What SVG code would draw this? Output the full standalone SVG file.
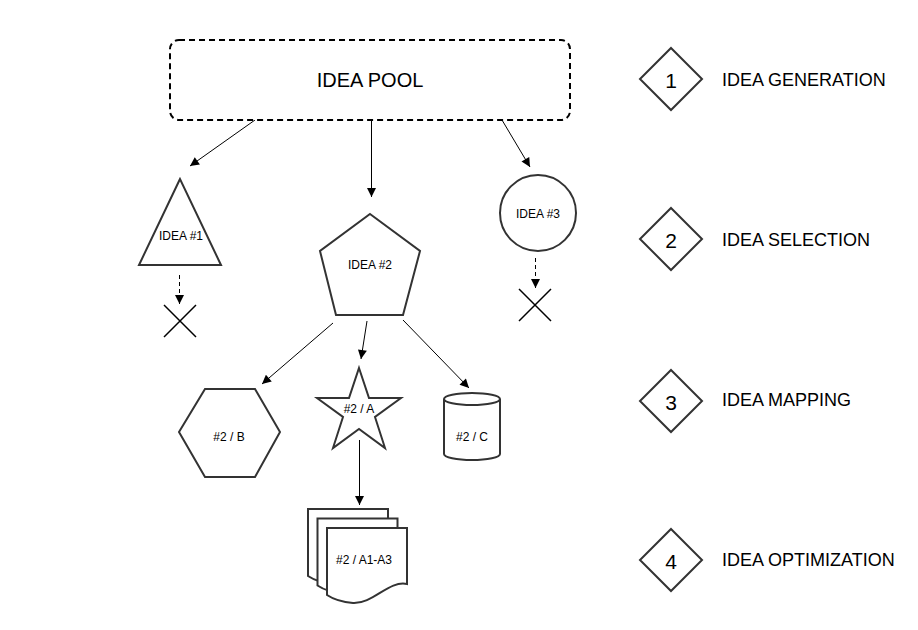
<svg xmlns="http://www.w3.org/2000/svg" width="918" height="630" viewBox="0 0 918 630">
<style>
.shape{fill:#fff;stroke:#333;stroke-width:2}
.conn{fill:none;stroke:#000;stroke-width:1}
.dash{stroke-dasharray:4 3}
.x{stroke:#000;stroke-width:1.5;fill:none}
text{font-family:"Liberation Sans",Arial,sans-serif;fill:#000;text-anchor:middle;dominant-baseline:central}
.s{font-size:12px}
.leg{font-size:18px;text-anchor:start}
.num{font-size:21px}
</style>
<defs>
<marker id="ah" viewBox="0 0 10 10" refX="10" refY="5" markerWidth="10" markerHeight="9" markerUnits="userSpaceOnUse" orient="auto">
<path d="M0,0 L10,5 L0,10 Z" fill="#000"/>
</marker>
<path id="doc" d="M0,0 H80 V56 C62,52 46,76 26,75 C14,74 6,71 0,67 Z"/>
</defs>
<rect width="918" height="630" fill="#fff"/>
<g id="connectors">
<line class="conn" x1="255" y1="120" x2="190" y2="166" marker-end="url(#ah)"/>
<line class="conn" x1="371.5" y1="120" x2="371.5" y2="197" marker-end="url(#ah)"/>
<line class="conn" x1="502" y1="120" x2="530" y2="167" marker-end="url(#ah)"/>
<line class="conn dash" x1="179.5" y1="275" x2="179.5" y2="304" marker-end="url(#ah)"/>
<line class="conn dash" x1="535.5" y1="258" x2="535.5" y2="288" marker-end="url(#ah)"/>
<line class="conn" x1="333" y1="323" x2="262" y2="384" marker-end="url(#ah)"/>
<line class="conn" x1="367" y1="321" x2="361" y2="359" marker-end="url(#ah)"/>
<line class="conn" x1="403" y1="320" x2="469" y2="388" marker-end="url(#ah)"/>
<line class="conn" x1="359.5" y1="440" x2="359.5" y2="505" marker-end="url(#ah)"/>
</g>
<g id="pool">
<rect x="170" y="40" width="400" height="80" rx="9" fill="#fff" stroke="#000" stroke-width="2" stroke-dasharray="6 4"/>
<text x="370" y="80" style="font-size:20px">IDEA POOL</text>
</g>
<g id="idea1">
<polygon class="shape" points="180,179 139,265 221,265"/>
<text class="s" x="181" y="236">IDEA #1</text>
</g>
<g id="reject1">
<path class="x" d="M164,305 L196,337 M196,305 L164,337"/>
</g>
<g id="idea2">
<polygon class="shape" points="370,214 420,251 403,315 336,315 320,251"/>
<text class="s" x="370" y="265">IDEA #2</text>
</g>
<g id="idea3">
<circle class="shape" cx="538" cy="213" r="38"/>
<text class="s" x="538" y="214">IDEA #3</text>
</g>
<g id="reject3">
<path class="x" d="M519,289 L551,321 M551,289 L519,321"/>
</g>
<g id="nodeB">
<polygon class="shape" points="179,432 205,389 255,389 280,432 255,477 205,477"/>
<text class="s" x="229" y="437">#2 / B</text>
</g>
<g id="nodeA">
<polygon class="shape" points="359,368 369,398 401,398 375,417 385,448 359,429 333,448 343,417 317,398 349,398"/>
<text class="s" x="359" y="409">#2 / A</text>
</g>
<g id="nodeC">
<path class="shape" d="M444,399 V454 A28,6 0 0 0 500,454 V399 A28,6 0 0 0 444,399 Z"/>
<path class="shape" d="M444,399 A28,6 0 0 0 500,399" fill="none"/>
<text class="s" x="472" y="437">#2 / C</text>
</g>
<g id="docs">
<use href="#doc" class="shape" x="308" y="509"/>
<use href="#doc" class="shape" x="317.5" y="518.5"/>
<use href="#doc" class="shape" x="327" y="528"/>
<text class="s" x="364" y="560">#2 / A1-A3</text>
</g>
<g id="legend1">
<polygon class="shape" points="671,48 702,79 671,110 640,79"/>
<text class="num" x="671" y="80">1</text>
<text class="leg" x="722" y="80">IDEA GENERATION</text>
</g>
<g id="legend2">
<polygon class="shape" points="671,208 702,239 671,270 640,239"/>
<text class="num" x="671" y="240">2</text>
<text class="leg" x="722" y="240">IDEA SELECTION</text>
</g>
<g id="legend3">
<polygon class="shape" points="671,370 702,401 671,432 640,401"/>
<text class="num" x="671" y="402">3</text>
<text class="leg" x="722" y="400">IDEA MAPPING</text>
</g>
<g id="legend4">
<polygon class="shape" points="671,529 702,560 671,591 640,560"/>
<text class="num" x="671" y="561">4</text>
<text class="leg" x="722" y="560">IDEA OPTIMIZATION</text>
</g>
</svg>
